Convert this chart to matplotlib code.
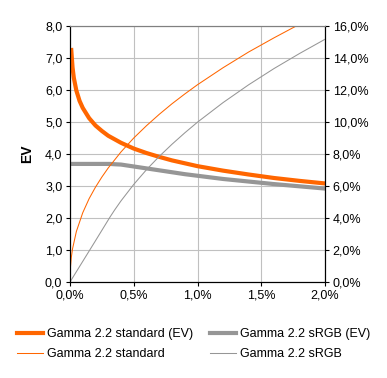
import matplotlib
matplotlib.use("Agg")
import matplotlib.pyplot as plt
from matplotlib.ticker import FuncFormatter

plt.rcParams['font.family'] = ['Liberation Sans', 'DejaVu Sans']
plt.rcParams['font.size'] = 9

# x values in percent of linear light
x_std = [0.003, 0.01, 0.02, 0.05, 0.1, 0.15, 0.2, 0.25, 0.3, 0.4, 0.5, 0.6, 0.7,
         0.8, 0.9, 1.0, 1.2, 1.4, 1.6, 1.8, 2.0]
std_val = [0.88, 1.52, 2.08, 3.16, 4.33, 5.21, 5.93, 6.56, 7.13, 8.13, 9.00, 9.77,
           10.48, 11.14, 11.75, 12.33, 13.39, 14.37, 15.26, 16.11, 16.90]

x_std_ev = [0.01, 0.02, 0.03, 0.05, 0.075, 0.1, 0.15, 0.2, 0.25, 0.3, 0.4, 0.5, 0.6,
            0.7, 0.8, 0.9, 1.0, 1.2, 1.4, 1.6, 1.8, 2.0]
std_ev = [7.25, 6.70, 6.38, 5.98, 5.66, 5.44, 5.12, 4.89, 4.72, 4.57, 4.35, 4.17,
          4.03, 3.91, 3.80, 3.71, 3.62, 3.48, 3.36, 3.25, 3.16, 3.08]

x_srgb = [0.0, 0.1, 0.2, 0.3, 0.313, 0.35, 0.4, 0.5, 0.6, 0.7, 0.8, 0.9, 1.0,
          1.2, 1.4, 1.6, 1.8, 2.0]
srgb_val = [0.0, 1.29, 2.58, 3.88, 4.05, 4.50, 5.07, 6.10, 7.02, 7.85, 8.61, 9.32,
            9.99, 11.21, 12.32, 13.34, 14.28, 15.17]

x_srgb_ev = [0.01, 0.1, 0.2, 0.3, 0.313, 0.35, 0.4, 0.5, 0.6, 0.7, 0.8, 0.9, 1.0,
             1.2, 1.4, 1.6, 1.8, 2.0]
srgb_ev = [3.69, 3.69, 3.69, 3.69, 3.69, 3.68, 3.67, 3.61, 3.55, 3.49, 3.43, 3.37,
           3.32, 3.22, 3.14, 3.06, 2.99, 2.92]

orange = '#FF6600'
gray = '#969696'

fig = plt.figure(figsize=(3.87, 3.78), dpi=100)
ax = fig.add_axes([70/387, 1 - 282/378, 255/387, 256/378])
ax2 = ax.twinx()

l1, = ax.plot(x_std_ev, std_ev, color=orange, lw=3, label='Gamma 2.2 standard (EV)')
l3, = ax.plot(x_srgb_ev, srgb_ev, color=gray, lw=3, label='Gamma 2.2 sRGB (EV)')
l2, = ax2.plot(x_std, std_val, color=orange, lw=0.75, label='Gamma 2.2 standard')
l4, = ax2.plot(x_srgb, srgb_val, color=gray, lw=0.75, label='Gamma 2.2 sRGB')

ax.set_xlim(0, 2.0)
ax.set_ylim(0, 8)
ax2.set_ylim(0, 16)
ax.set_xticks([0, 0.5, 1.0, 1.5, 2.0])
ax.set_yticks(range(9))
ax2.set_yticks(range(0, 17, 2))
ax.xaxis.set_major_formatter(FuncFormatter(lambda v, p: f"{v:.1f}%".replace('.', ',')))
ax.yaxis.set_major_formatter(FuncFormatter(lambda v, p: f"{v:.1f}".replace('.', ',')))
ax2.yaxis.set_major_formatter(FuncFormatter(lambda v, p: f"{v:.1f}%".replace('.', ',')))

ax.grid(True, color='#C0C0C0', lw=0.8)
ax.set_axisbelow(True)
for a in (ax, ax2):
    a.tick_params(direction='out', length=3, width=0.8, colors='black', labelsize=9, pad=2.5)
    a.spines['top'].set_color('#808080')
    a.spines['top'].set_linewidth(0.8)
    for s in ('left', 'right', 'bottom'):
        a.spines[s].set_linewidth(0.8)

ax.set_ylabel('EV', fontweight='bold', fontsize=10, labelpad=8)

fig.legend([l1, l2, l3, l4], [h.get_label() for h in (l1, l2, l3, l4)],
           ncol=2, loc='center', bbox_to_anchor=(0.5, 1 - 344/378),
           frameon=False, fontsize=9, handlelength=2.1, handletextpad=0.35,
           columnspacing=1.3, labelspacing=0.62)

fig.savefig('out.png', dpi=100)
